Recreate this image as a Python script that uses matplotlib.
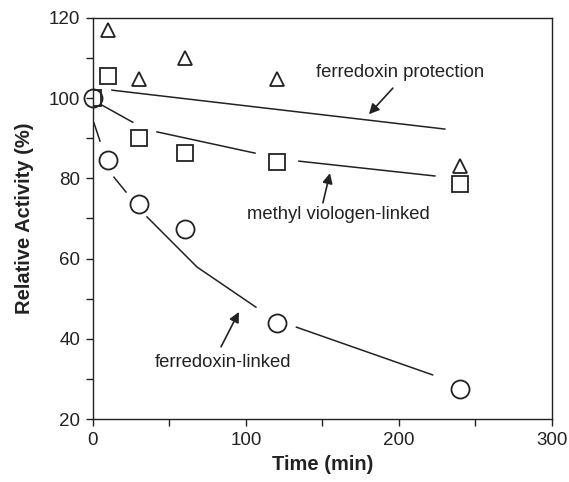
import numpy as np
import matplotlib
matplotlib.use("Agg")
import matplotlib.pyplot as plt
from matplotlib.ticker import MultipleLocator

plt.rcParams['font.family'] = ['Liberation Sans', 'DejaVu Sans']

# measured points
time = [0, 10, 30, 60, 120, 240]
protection = [None, 117, 104.7, 110, 104.7, 83]
mv_linked = [100, 105.5, 90, 86.3, 84, 78.5]
fd_linked = [100, 84.5, 73.5, 67.3, 44, 27.6]

# fitted curves (drawn in pieces, gaps around the markers)
prot_t = [12.4, 230]
prot_v = [102.0, 92.3]
mv_t = [5.7, 26, np.nan, 41.8, 105.9, np.nan, 134.6, 223.5]
mv_v = [98.3, 94.0, np.nan, 91.6, 86.3, np.nan, 84.3, 80.6]
fd_t = [0.65, 4.6, np.nan, 13.7, 21.6, np.nan, 35.3, 68, 106.5, np.nan, 133, 222]
fd_v = [93.8, 89.3, np.nan, 80.3, 76.6, np.nan, 70.4, 57.9, 47.9, np.nan, 42.9, 31.0]

ink = '#222222'

fig = plt.figure(figsize=(5.69, 4.82), dpi=100)
ax = fig.add_axes([0.1634, 0.1307, 0.8066, 0.832])

ax.plot(prot_t, prot_v, color=ink, lw=1.1)
ax.plot(mv_t, mv_v, color=ink, lw=1.1)
ax.plot(fd_t, fd_v, color=ink, lw=1.1)

t_prot = [t for t, v in zip(time, protection) if v is not None]
v_prot = [v for v in protection if v is not None]
ax.plot(t_prot, v_prot, ls='none', marker='^', ms=10, mfc='white', mec=ink, mew=1.3)
ax.plot(time, fd_linked, ls='none', marker='o', ms=13, mfc='none', mec=ink, mew=1.3, clip_on=False)
ax.plot(time, mv_linked, ls='none', marker='s', ms=11, mfc='none', mec=ink, mew=1.3)

arrow = dict(arrowstyle='-|>', color=ink, lw=1.2, mutation_scale=15, shrinkA=0, shrinkB=0)
ax.annotate('', xy=(180.4, 96.0), xytext=(196, 102.5), arrowprops=arrow)
ax.annotate('', xy=(154.9, 81.3), xytext=(150.3, 73.9), arrowprops=arrow)
ax.annotate('', xy=(95.4, 46.7), xytext=(83.7, 38.0), arrowprops=arrow)

ax.text(146, 106.3, 'ferredoxin protection', fontsize=13.3, color=ink, va='center')
ax.text(100.6, 71.1, 'methyl viologen-linked', fontsize=13.3, color=ink, va='center')
ax.text(40.5, 34.0, 'ferredoxin-linked', fontsize=13.3, color=ink, va='center')

ax.set_xlim(0, 300)
ax.set_ylim(20, 120)
ax.xaxis.set_major_locator(MultipleLocator(100))
ax.xaxis.set_minor_locator(MultipleLocator(50))
ax.yaxis.set_major_locator(MultipleLocator(20))
ax.yaxis.set_minor_locator(MultipleLocator(10))
ax.tick_params(which='both', direction='out', length=5, width=1, color=ink,
               labelsize=13.5, labelcolor=ink, pad=4)
for s in ax.spines.values():
    s.set_color(ink)
    s.set_linewidth(1)

ax.set_xlabel('Time (min)', fontsize=14.5, fontweight='bold', color=ink, labelpad=5)
ax.set_ylabel('Relative Activity (%)', fontsize=14.5, fontweight='bold', color=ink, labelpad=11)

fig.savefig('out.png', dpi=100)
